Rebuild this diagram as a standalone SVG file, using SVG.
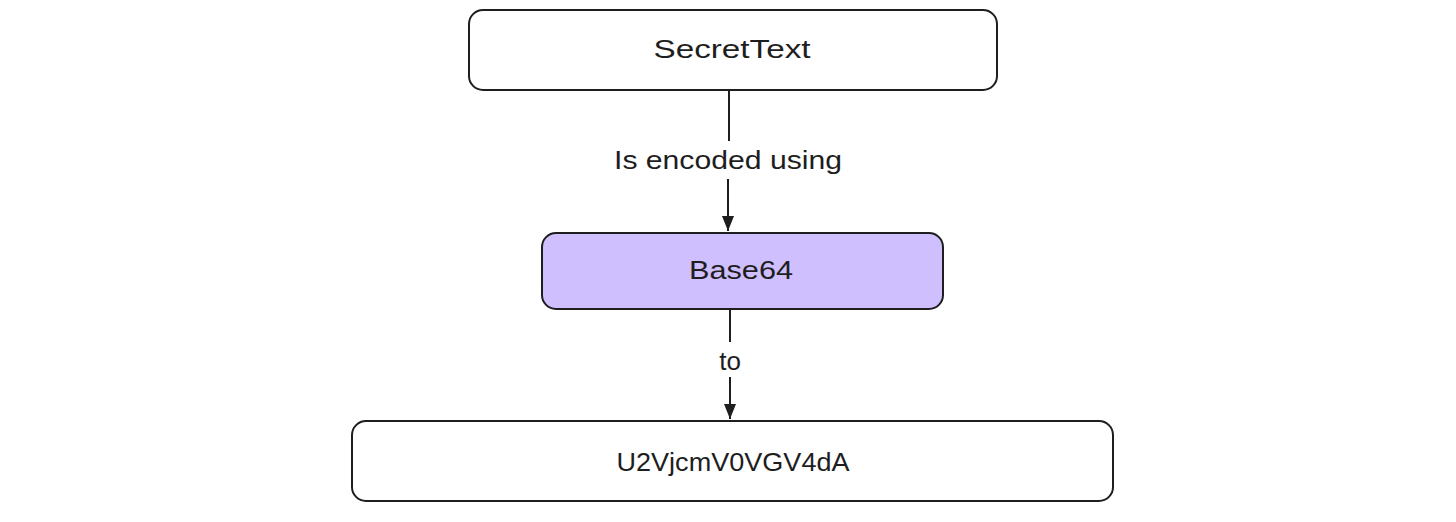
<svg xmlns="http://www.w3.org/2000/svg" width="1456" height="522" viewBox="0 0 1456 522">
<style>
.box{fill:#ffffff;stroke:#1e1e1e;stroke-width:2}
.purple{fill:#d0bfff}
.lbl{font-family:"Liberation Sans",Arial,sans-serif;font-size:26px;fill:#1e1e1e;text-anchor:middle;dominant-baseline:central}
.edge{stroke:#1e1e1e;stroke-width:2;fill:none}
</style>
<defs>
<marker id="ah" viewBox="0 0 12 14" refX="6" refY="14" markerWidth="12" markerHeight="14" markerUnits="userSpaceOnUse" orient="auto-start-reverse">
<path d="M0,0 L12,0 L6,14 Z" fill="#1e1e1e"/>
</marker>
</defs>
<rect width="1456" height="522" fill="#ffffff"/>
<g id="connectors">
<line class="edge" x1="729" y1="91" x2="729" y2="141"/>
<line class="edge" x1="728" y1="179" x2="728" y2="231"/>
<path d="M722,216 L734,216 L728,231 Z" fill="#1e1e1e"/>
<text class="lbl" x="728" y="160" textLength="228" lengthAdjust="spacingAndGlyphs">Is encoded using</text>
<line class="edge" x1="730" y1="310" x2="730" y2="342"/>
<line class="edge" x1="730" y1="377" x2="730" y2="419"/>
<path d="M724,404 L736,404 L730,419 Z" fill="#1e1e1e"/>
<text class="lbl" x="730" y="361">to</text>
</g>
<g id="node-secret">
<rect class="box" x="469" y="10" width="528" height="80" rx="14"/>
<text class="lbl" x="732" y="49" textLength="157" lengthAdjust="spacingAndGlyphs">SecretText</text>
</g>
<g id="node-base64">
<rect class="box purple" x="542" y="233" width="401" height="76" rx="14"/>
<text class="lbl" x="741" y="270" textLength="104" lengthAdjust="spacingAndGlyphs">Base64</text>
</g>
<g id="node-result">
<rect class="box" x="352" y="421" width="761" height="80" rx="14"/>
<text class="lbl" x="733" y="462" textLength="233" lengthAdjust="spacingAndGlyphs">U2VjcmV0VGV4dA</text>
</g>
</svg>
